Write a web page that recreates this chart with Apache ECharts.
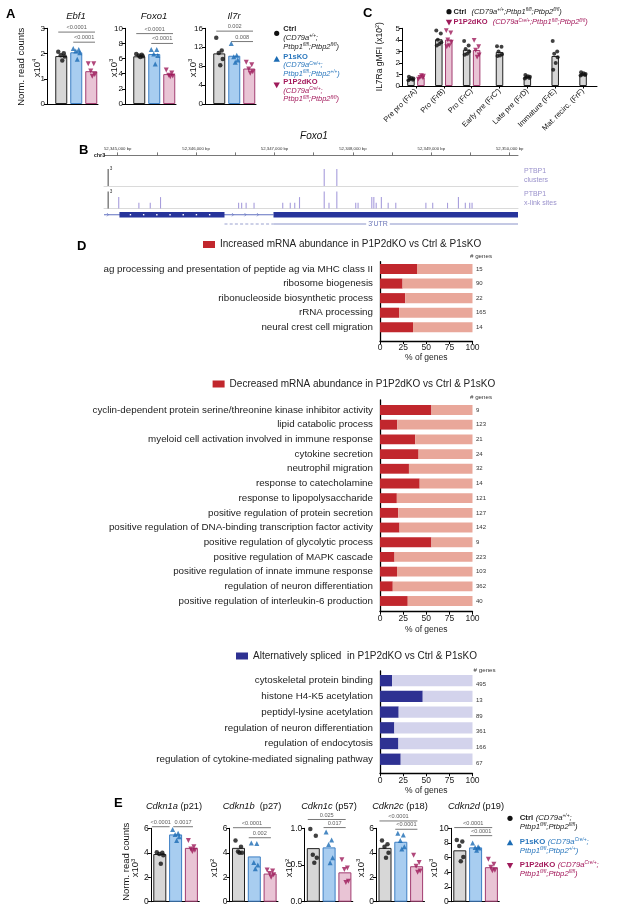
<!DOCTYPE html>
<html>
<head>
<meta charset="utf-8">
<script src="https://cdn.jsdelivr.net/npm/echarts@6/dist/echarts.min.js"></script>
<style>
html,body{margin:0;padding:0;background:#fff;}
#chart{width:617px;height:913px;}
</style>
</head>
<body>
<div id="chart"></div>
<script>
// ================= DATA =================
// Panel A : normalized read counts (Ctrl, P1sKO, P1P2dKO)
const groupsA = ['Ctrl', 'P1sKO', 'P1P2dKO'];
const ebf1Mean = [1.9, 2.05, 1.3];
const ebf1Ctrl = [2.07, 2.01, 1.93, 1.88, 1.72];
const ebf1P1s = [2.2, 2.16, 2.1, 2.03, 1.77];
const ebf1Dko = [1.6, 1.6, 1.31, 1.17, 1.1];
const ebf1Sig = [[0, 2, 2.85, '<0.0001'], [1, 2, 2.45, '<0.0001']];

const foxo1Mean = [6.3, 6.6, 3.95];
const foxo1Ctrl = [6.6, 6.5, 6.4, 6.3, 6.2];
const foxo1P1s = [7.2, 7.2, 6.6, 6.4, 5.3];
const foxo1Dko = [4.5, 4.1, 3.8, 3.7, 3.6];
const foxo1Sig = [[0, 2, 9.3, '<0.0001'], [1, 2, 8.0, '<0.0001']];

const il7rMean = [10.7, 10.2, 7.5];
const il7rCtrl = [14.0, 11.3, 10.8, 9.5, 8.2];
const il7rP1s = [12.8, 10.3, 10.0, 9.3, 8.8];
const il7rDko = [8.8, 8.3, 7.4, 6.8, 6.5];
const il7rSig = [[0, 2, 15.4, '0.002'], [1, 2, 13.2, '0.008']];

// Panel C : IL7Ra gMFI (x10^2)
const stagesC = ['Pre pro (FrA)', 'Pro (FrB)', 'Pro (FrC)', "Early pre (FrC')", 'Late pre (FrD)', 'Immature (FrE)', 'Mat. recirc. (FrF)'];
const ctrlMeanC = [0.6, 4.05, 3.15, 2.95, 0.78, 2.6, 1.0];
const dkoMeanC = [0.75, 4.02, 3.12];
const ctrlPtsC = [
  [0.5, 0.55, 0.6, 0.65, 0.7, 0.8],
  [4.8, 4.55, 4.0, 3.8, 3.65, 3.5],
  [3.9, 3.5, 3.2, 3.0, 2.8, 2.7],
  [3.45, 3.4, 3.0, 2.75, 2.65, 2.6],
  [0.65, 0.7, 0.75, 0.8, 0.85, 0.95],
  [3.9, 3.0, 2.8, 2.5, 2.0, 1.4],
  [0.9, 0.95, 1.0, 1.05, 1.1, 1.2]
];
const dkoPtsC = [
  [0.6, 0.7, 0.75, 0.85, 0.9],
  [4.8, 4.6, 4.0, 3.8, 3.5, 3.4],
  [3.95, 3.4, 3.1, 2.7, 2.5]
];

// Panel B : Foxo1 locus, PTBP1 iCLIP
const bpMin = 52344825;
const bpMax = 52350106;
const bLabelPos = [52345000, 52346000, 52347000, 52348000, 52349000, 52350000];
const bTickPos = [52345000, 52345500, 52346000, 52346500, 52347000, 52347500, 52348000, 52348500, 52349000, 52349500, 52350000];
const bScalePos = 52344878;
const bScaleMax = 3;
const clusterPos = [52347634, 52347795];
const clusterH = [3, 3];
const xlinkPos = [52345013, 52345270, 52345415, 52345546, 52346542, 52346581, 52346638, 52346739, 52347105, 52347201, 52347258, 52347319, 52347634, 52347695, 52347795, 52348036, 52348066, 52348241, 52348267, 52348297, 52348363, 52348450, 52348547, 52348931, 52349018, 52349207, 52349346, 52349434, 52349490, 52349520];
const xlinkH = [2, 1, 1, 2, 1, 1, 1, 1, 1, 1, 1, 2, 3, 1, 3, 1, 1, 2, 2, 1, 2, 1, 1, 1, 1, 1, 2, 1, 1, 1];
// gene model segments: kind 0 = intron line, 1 = UTR exon, 2 = coding exon
const geneStart = [52344825, 52345022, 52346987];
const geneEnd = [52346987, 52346362, 52350106];
const geneKind = [0, 2, 1];
const utrDash = [52346362, 52346987];
const utrSolid = [52346987, 52350106];
const utrLabelPos = 52348320;

// Panel D : GO enrichment (% of genes)
const incName = 'Increased mRNA abundance in P1P2dKO vs Ctrl & P1sKO';
const incTerms = ['ag processing and presentation of peptide ag via MHC class II', 'ribosome biogenesis', 'ribonucleoside biosynthetic process', 'rRNA processing', 'neural crest cell migration'];
const incPct = [40, 24.4, 27.3, 20.6, 35.7];
const incGenes = [15, 90, 22, 165, 14];

const decName = 'Decreased mRNA abundance in P1P2dKO vs Ctrl & P1sKO';
const decTerms = ['cyclin-dependent protein serine/threonine kinase inhibitor activity', 'lipid catabolic process', 'myeloid cell activation involved in immune response', 'cytokine secretion', 'neutrophil migration', 'response to catecholamine', 'response to lipopolysaccharide', 'positive regulation of protein secretion', 'positive regulation of DNA-binding transcription factor activity', 'positive regulation of glycolytic process', 'positive regulation of MAPK cascade', 'positive regulation of innate immune response', 'regulation of neuron differentiation', 'positive regulation of interleukin-6 production'];
const decPct = [55.6, 18.7, 38.1, 41.7, 31.3, 42.9, 18.2, 19.7, 21.1, 55.6, 15.7, 18.4, 13.8, 30];
const decGenes = [9, 123, 21, 24, 32, 14, 121, 127, 142, 9, 223, 103, 362, 40];

const asName = 'Alternatively spliced  in P1P2dKO vs Ctrl & P1sKO';
const asTerms = ['cytoskeletal protein binding', 'histone H4-K5 acetylation', 'peptidyl-lysine acetylation', 'regulation of neuron differentiation', 'regulation of endocytosis', 'regulation of cytokine-mediated signaling pathway'];
const asPct = [13, 46.2, 20.2, 15.5, 19.9, 22.4];
const asGenes = [495, 13, 89, 361, 166, 67];
const pctTicks = [0, 25, 50, 75, 100];

// Panel E : cell-cycle inhibitors (normalized read counts)
const cdkn1aMean = [3.9, 5.5, 4.4];
const cdkn1aCtrl = [4.05, 4.0, 3.9, 3.8, 3.1];
const cdkn1aP1s = [5.9, 5.6, 5.5, 5.3, 5.0];
const cdkn1aDko = [5.0, 4.5, 4.3, 4.2, 4.1];
const cdkn1aSig = [[0, 1, 6.13, '<0.0001'], [1, 2, 6.13, '0.0017']];

const cdkn1bMean = [4.4, 3.7, 2.3];
const cdkn1bCtrl = [5.0, 4.5, 4.1, 4.0, 4.0];
const cdkn1bP1s = [4.8, 4.75, 3.2, 3.0, 2.7];
const cdkn1bDko = [2.6, 2.5, 2.3, 2.2, 2.0];
const cdkn1bSig = [[0, 2, 6.05, '<0.0001'], [1, 2, 5.23, '0.002']];

const cdkn1cMean = [0.73, 0.74, 0.40];
const cdkn1cCtrl = [0.99, 0.9, 0.64, 0.6, 0.53];
const cdkn1cP1s = [0.95, 0.84, 0.78, 0.6, 0.53];
const cdkn1cDko = [0.57, 0.46, 0.44, 0.28, 0.26];
const cdkn1cSig = [[0, 2, 1.12, '0.025'], [1, 2, 1.01, '0.017']];

const cdkn2cMean = [4.4, 4.9, 2.9];
const cdkn2cCtrl = [5.0, 4.7, 4.5, 4.0, 3.6];
const cdkn2cP1s = [5.6, 5.45, 5.0, 4.5, 4.3];
const cdkn2cDko = [3.8, 3.2, 2.9, 2.5, 2.4];
const cdkn2cSig = [[0, 2, 6.6, '<0.0001'], [1, 2, 5.92, '<0.0001']];

const cdkn2dMean = [7.0, 7.4, 4.7];
const cdkn2dCtrl = [8.4, 8.2, 7.6, 6.1, 5.5];
const cdkn2dP1s = [8.0, 7.5, 7.4, 7.3, 7.0];
const cdkn2dDko = [5.8, 5.1, 4.7, 4.3, 4.2];
const cdkn2dSig = [[0, 2, 10.1, '<0.0001'], [1, 2, 9.0, '<0.0001']];

// ================= STYLE / BUILD =================
const FONT = '"Liberation Sans", Arial, Helvetica, sans-serif';
const FILLS = ['#d7d7d7', '#a8cdf0', '#e9c4d5'];
const EDGES = ['#222222', '#3d7fc4', '#a23c70'];
const MARK = ['#111111', '#1c6cb4', '#9e1a5a'];
const SYM = ['circle', 'triangle', 'triangle'];
const ROT = [0, 0, 180];
const SIZE = [4.5, 5, 5];
const JIT = [-3, 2.5, -0.5, 3.5, 1, -2];

const grid = [], xAxis = [], yAxis = [], series = [], legend = [], gfx = [];

function rs(fs, col, lh) {
  const base = { fontFamily: FONT, fill: col, color: col };
  return {
    b: Object.assign({ fontSize: fs, fontWeight: 'bold', lineHeight: lh }, base),
    i: Object.assign({ fontSize: fs, fontStyle: 'italic', lineHeight: lh }, base),
    n: Object.assign({ fontSize: fs, lineHeight: lh }, base),
    s: Object.assign({ fontSize: fs * 0.62, fontStyle: 'italic', lineHeight: fs * 0.62, verticalAlign: 'top' }, base),
    sn: Object.assign({ fontSize: fs * 0.62, lineHeight: fs * 0.62, verticalAlign: 'top' }, base)
  };
}
function txt(x, y, text, o) {
  o = o || {};
  const st = {
    text: text, fill: o.color || '#111', fontFamily: FONT, fontSize: o.size || 9,
    fontWeight: o.weight || 'normal', fontStyle: o.style || 'normal',
    align: o.align || 'center', verticalAlign: o.valign || 'middle'
  };
  if (o.rich) st.rich = o.rich;
  if (o.lh) st.lineHeight = o.lh;
  gfx.push({ type: 'text', x: x, y: y, rotation: o.rot || 0, silent: true, z: 10, style: st });
}
function marker(x, y, g) {
  if (g === 0) {
    gfx.push({ type: 'circle', silent: true, shape: { cx: x, cy: y, r: 2.6 }, style: { fill: MARK[0] } });
  } else {
    const s = 3.2;
    const pts = g === 1 ? [[x, y - s], [x + s, y + s * 0.8], [x - s, y + s * 0.8]]
                        : [[x - s, y - s * 0.8], [x + s, y - s * 0.8], [x, y + s]];
    gfx.push({ type: 'polygon', silent: true, shape: { points: pts }, style: { fill: MARK[g] } });
  }
}

function dotBar(c) {
  const gi = grid.push({ left: c.left, top: c.top, width: c.width, height: c.height }) - 1;
  const xi = xAxis.push({ gridIndex: gi, type: 'value', min: c.xmin, max: c.xmax,
    axisLine: { show: true, onZero: false, lineStyle: { color: '#000', width: 1 } },
    axisTick: { show: false }, axisLabel: { show: false }, splitLine: { show: false } }) - 1;
  const yi = yAxis.push({ gridIndex: gi, type: 'value', min: 0, max: c.ymax, interval: c.step,
    axisLine: { show: true, onZero: false, lineStyle: { color: '#000', width: 1 } },
    axisTick: { show: true, length: 3, lineStyle: { color: '#000', width: 1 } },
    axisLabel: { fontSize: c.tick, color: '#111', margin: 2, fontFamily: FONT, formatter: c.fmt || (v => String(v)) },
    splitLine: { show: false } }) - 1;
  series.push({ type: 'bar', xAxisIndex: xi, yAxisIndex: yi, barWidth: c.bw, silent: true, z: 2,
    data: c.bars.map((v, i) => ({ value: [i, v], itemStyle: { color: FILLS[i], borderColor: EDGES[i], borderWidth: 1 } })) });
  c.pts.forEach((arr, g) => series.push({ type: 'scatter', xAxisIndex: xi, yAxisIndex: yi, silent: true, z: 4,
    symbol: SYM[g], symbolRotate: ROT[g], symbolSize: SIZE[g], itemStyle: { color: MARK[g] },
    data: arr.map((v, k) => ({ value: [g, v], symbolOffset: [JIT[k % JIT.length], 0] })) }));
  c.sig.forEach((s, k) => {
    const span = c.sigX ? c.sigX[k] : [s[0] + c.sigPad[0], s[1] + c.sigPad[1]];
    series.push({ type: 'line', xAxisIndex: xi, yAxisIndex: yi, silent: true, z: 5, clip: false, symbol: 'none',
      lineStyle: { color: '#555', width: 0.8 }, data: [[span[0], s[2]], [span[1], s[2]]] });
    series.push({ type: 'scatter', xAxisIndex: xi, yAxisIndex: yi, silent: true, z: 5, clip: false, symbolSize: 1,
      itemStyle: { color: 'rgba(0,0,0,0)' }, data: [[(span[0] + span[1]) / 2, s[2]]],
      label: { show: true, position: 'top', distance: 1, formatter: s[3], fontSize: 5.6, color: '#333', fontFamily: FONT } });
  });
}

// ---------- Panel A ----------
txt(6, 14, 'A', { size: 13, weight: 'bold', align: 'left', color: '#000' });
txt(21.7, 66.7, 'Norm. read counts', { size: 9.5, rot: Math.PI / 2 });
const aCommon = { top: 28.3, height: 75.7, width: 51, xmin: -0.95, xmax: 2.45, bw: 12, tick: 8, sigPad: [-0.2, 0.25] };
dotBar(Object.assign({ left: 47, ymax: 3, step: 1, bars: ebf1Mean, pts: [ebf1Ctrl, ebf1P1s, ebf1Dko], sig: ebf1Sig }, aCommon));
dotBar(Object.assign({ left: 125, ymax: 10, step: 2, bars: foxo1Mean, pts: [foxo1Ctrl, foxo1P1s, foxo1Dko], sig: foxo1Sig }, aCommon));
dotBar(Object.assign({ left: 205, ymax: 16, step: 4, bars: il7rMean, pts: [il7rCtrl, il7rP1s, il7rDko], sig: il7rSig }, aCommon));
const richA9 = rs(9.5, '#111', 11);
txt(76, 16, '{i|Ebf1}', { rich: richA9 });
txt(154, 16, '{i|Foxo1}', { rich: richA9 });
txt(234, 16, '{i|Il7r}', { rich: richA9 });
txt(37, 68, '{n|x10}{sn|4}', { rich: rs(9.5, '#111', 11), rot: Math.PI / 2 });
txt(114, 68, '{n|x10}{sn|3}', { rich: rs(9.5, '#111', 11), rot: Math.PI / 2 });
txt(193, 68, '{n|x10}{sn|3}', { rich: rs(9.5, '#111', 11), rot: Math.PI / 2 });
// legend A
marker(276.7, 33.3, 0); marker(276.7, 59.3, 1); marker(276.7, 85, 2);
txt(283.3, 25, '{b|Ctrl}\n{i|(CD79a}{s|+/+}{i|;}\n{i|Ptbp1}{s|fl/fl}{i|;Ptbp2}{s|fl/fl}{i|)}', { align: 'left', valign: 'top', rich: rs(7.5, '#222', 8.7) });
txt(283.3, 52.4, '{b|P1sKO}\n{i|(CD79a}{s|Cre/+}{i|;}\n{i|Ptbp1}{s|fl/fl}{i|;Ptbp2}{s|+/+}{i|)}', { align: 'left', valign: 'top', rich: rs(7.5, '#2a77bd', 8.5) });
txt(283.3, 77.4, '{b|P1P2dKO}\n{i|(CD79a}{s|Cre/+}{i|;}\n{i|Ptbp1}{s|fl/fl}{i|;Ptbp2}{s|fl/fl}{i|)}', { align: 'left', valign: 'top', rich: rs(7.5, '#a3195b', 8.7) });

// ---------- Panel C ----------
txt(363, 13.3, 'C', { size: 13, weight: 'bold', align: 'left', color: '#000' });
marker(449, 11.7, 0); marker(449, 22.3, 2);
txt(453.5, 11.7, '{b|Ctrl}  {i|(CD79a}{s|+/+}{i|;Ptbp1}{s|fl/fl}{i|;Ptbp2}{s|fl/fl}{i|)}', { align: 'left', rich: rs(7.5, '#222', 9) });
txt(453.5, 22.3, '{b|P1P2dKO}  {i|(CD79a}{s|Cre/+}{i|;Ptbp1}{s|fl/fl}{i|;Ptbp2}{s|fl/fl}{i|)}', { align: 'left', rich: rs(7.5, '#a3195b', 9) });
txt(380, 56.7, '{n|IL7Ra gMFI (x10}{sn|2}{n|)}', { rich: rs(8.5, '#111', 10), rot: Math.PI / 2 });
(function () {
  const gi = grid.push({ left: 402, top: 28.3, width: 195, height: 57.7 }) - 1;
  const xa = xAxis.push({ gridIndex: gi, type: 'category', data: stagesC,
    axisLine: { lineStyle: { color: '#000', width: 1 } },
    axisTick: { show: true, alignWithLabel: true, length: 2.5, lineStyle: { color: '#000' } },
    axisLabel: { interval: 0, rotate: 45, fontSize: 7.5, color: '#111', margin: 4, fontFamily: FONT } }) - 1;
  const xb = xAxis.push({ gridIndex: gi, type: 'category', data: stagesC, show: false }) - 1;
  const ya = yAxis.push({ gridIndex: gi, type: 'value', min: 0, max: 5, interval: 1,
    axisLine: { show: true, lineStyle: { color: '#000' } },
    axisTick: { show: true, length: 3, lineStyle: { color: '#000' } },
    axisLabel: { fontSize: 8, color: '#111', margin: 2, fontFamily: FONT }, splitLine: { show: false } }) - 1;
  const nP = dkoMeanC.length;
  const bw = 7.5, off = 5;
  series.push({ type: 'bar', xAxisIndex: xa, yAxisIndex: ya, barWidth: bw, barGap: '33%', silent: true, z: 2,
    data: ctrlMeanC.map((v, i) => i < nP ? v : '-'), itemStyle: { color: FILLS[0], borderColor: EDGES[0], borderWidth: 1 } });
  series.push({ type: 'bar', xAxisIndex: xa, yAxisIndex: ya, barWidth: bw, barGap: '33%', silent: true, z: 2,
    data: ctrlMeanC.map((v, i) => i < nP ? dkoMeanC[i] : '-'), itemStyle: { color: FILLS[2], borderColor: EDGES[2], borderWidth: 1 } });
  series.push({ type: 'bar', xAxisIndex: xb, yAxisIndex: ya, barWidth: bw, silent: true, z: 2,
    data: ctrlMeanC.map((v, i) => i < nP ? '-' : v), itemStyle: { color: FILLS[0], borderColor: EDGES[0], borderWidth: 1 } });
  const jc = [-2.5, 2, -1, 2.5, 0.5, -2];
  const ctrlData = [];
  ctrlPtsC.forEach((arr, i) => arr.forEach((v, k) => ctrlData.push({ value: [i, v], symbolOffset: [(i < nP ? -off : 0) + jc[k % jc.length], 0] })));
  const dkoData = [];
  dkoPtsC.forEach((arr, i) => arr.forEach((v, k) => dkoData.push({ value: [i, v], symbolOffset: [off + jc[k % jc.length], 0] })));
  series.push({ type: 'scatter', xAxisIndex: xa, yAxisIndex: ya, silent: true, z: 4, symbol: 'circle', symbolSize: 4, itemStyle: { color: MARK[0] }, data: ctrlData });
  series.push({ type: 'scatter', xAxisIndex: xa, yAxisIndex: ya, silent: true, z: 4, symbol: 'triangle', symbolRotate: 180, symbolSize: 4.8, itemStyle: { color: MARK[2] }, data: dkoData });
})();

// ---------- Panel B ----------
txt(79, 150, 'B', { size: 13, weight: 'bold', align: 'left', color: '#000' });
txt(314, 136, '{i|Foxo1}', { rich: rs(10, '#111', 12) });
txt(93.7, 155.6, 'chr3', { size: 5.5, weight: 'bold', align: 'left', color: '#222' });
txt(524, 175.5, 'PTBP1\nclusters', { size: 7, align: 'left', color: '#9a92cc', lh: 8.5 });
txt(524, 199, 'PTBP1\nx-link sites', { size: 7, align: 'left', color: '#9a92cc', lh: 9 });
const B_L = 104, B_W = 414;
(function () {
  const g0 = grid.push({ left: B_L, width: B_W, top: 155.4, height: 1 }) - 1;
  xAxis.push({ gridIndex: g0, type: 'value', position: 'top', min: bpMin, max: bpMax,
    axisLine: { show: true, onZero: false, lineStyle: { color: '#555', width: 0.8 } },
    axisTick: { show: true, customValues: bTickPos, length: 3, lineStyle: { color: '#555', width: 0.8 } },
    axisLabel: { show: true, customValues: bLabelPos, formatter: v => Number(v).toLocaleString('en-US') + ' bp', fontSize: 4.3, color: '#333', margin: 4.5, fontFamily: FONT },
    splitLine: { show: false } });
  yAxis.push({ gridIndex: g0, type: 'value', show: false, min: 0, max: 1 });

  function track(top, pos, h) {
    const g = grid.push({ left: B_L, width: B_W, top: top, height: 17.1 }) - 1;
    const xi = xAxis.push({ gridIndex: g, type: 'value', min: bpMin, max: bpMax,
      axisLine: { show: true, onZero: false, lineStyle: { color: '#d0d0d0', width: 0.8 } },
      axisTick: { show: false }, axisLabel: { show: false }, splitLine: { show: false } }) - 1;
    const yi = yAxis.push({ gridIndex: g, type: 'value', min: 0, max: 3, show: false }) - 1;
    series.push({ type: 'bar', xAxisIndex: xi, yAxisIndex: yi, barWidth: 1.1, silent: true,
      data: [[bScalePos, bScaleMax]], itemStyle: { color: '#555' },
      label: { show: true, position: [2.2, -2.5], formatter: String(bScaleMax), fontSize: 4.6, color: '#333', fontFamily: FONT } });
    series.push({ type: 'bar', xAxisIndex: xi, yAxisIndex: yi, barWidth: 1.1, barGap: '-100%', silent: true,
      data: pos.map((p, i) => [p, h[i]]), itemStyle: { color: '#a79ddc' } });
  }
  track(169, clusterPos, clusterH);
  track(191.4, xlinkPos, xlinkH);

  const gg = grid.push({ left: B_L, width: B_W, top: 209.7, height: 10 }) - 1;
  const xg = xAxis.push({ gridIndex: gg, type: 'value', min: bpMin, max: bpMax, show: false }) - 1;
  const yg = yAxis.push({ gridIndex: gg, type: 'value', min: 0, max: 1, show: false }) - 1;
  series.push({ type: 'custom', xAxisIndex: xg, yAxisIndex: yg, silent: true, z: 3,
    data: geneStart.map((s, i) => [s, geneEnd[i], geneKind[i]]),
    renderItem: function (params, api) {
      const s = api.value(0), e = api.value(1), k = api.value(2);
      const a = api.coord([s, 0.5]), b = api.coord([e, 0.5]);
      const h = k === 0 ? 1 : 5.5;
      const col = k === 0 ? '#6170c0' : '#27349b';
      const ch = [{ type: 'rect', shape: { x: a[0], y: a[1] - h / 2, width: b[0] - a[0], height: h }, style: { fill: col } }];
      if (k === 2) {
        for (let x = a[0] + 11; x < b[0] - 6; x += 13.2) ch.push({ type: 'rect', shape: { x: x - 0.7, y: a[1] - 0.7, width: 1.4, height: 1.4 }, style: { fill: '#fff' } });
      }
      if (k === 0) {
        for (let x = a[0] + 4; x < b[0] - 4; x += 12.5) {
          if (x > a[0] + 12 && x < a[0] + 122) continue;
          ch.push({ type: 'polyline', shape: { points: [[x - 1, a[1] - 1.6], [x + 0.6, a[1]], [x - 1, a[1] + 1.6]] }, style: { stroke: col, fill: null, lineWidth: 0.7 } });
        }
      }
      return { type: 'group', children: ch };
    } });

  const gu = grid.push({ left: B_L, width: B_W, top: 219, height: 10 }) - 1;
  const xu = xAxis.push({ gridIndex: gu, type: 'value', min: bpMin, max: bpMax, show: false }) - 1;
  const yu = yAxis.push({ gridIndex: gu, type: 'value', min: 0, max: 1, show: false }) - 1;
  series.push({ type: 'custom', xAxisIndex: xu, yAxisIndex: yu, silent: true, z: 3,
    data: [[utrDash[0], utrDash[1], 0, utrLabelPos], [utrSolid[0], utrSolid[1], 1, utrLabelPos]],
    renderItem: function (params, api) {
      const a = api.coord([api.value(0), 0.5]), b = api.coord([api.value(1), 0.5]);
      const k = api.value(2);
      if (k === 0) {
        return { type: 'line', shape: { x1: a[0], y1: a[1], x2: b[0], y2: b[1] }, style: { stroke: '#9aa1cf', lineWidth: 1, lineDash: [3, 2.2] } };
      }
      const m = api.coord([api.value(3), 0.5]);
      return { type: 'group', children: [
        { type: 'line', shape: { x1: a[0], y1: a[1], x2: b[0], y2: b[1] }, style: { stroke: '#8a93c9', lineWidth: 1 } },
        { type: 'text', style: { text: "3'UTR", x: m[0], y: m[1], align: 'center', verticalAlign: 'middle', fontSize: 7, fontFamily: FONT, fill: '#6b76b8', backgroundColor: '#fff', padding: [0, 2] } }
      ] };
    } });
})();

// ---------- Panel D ----------
txt(77, 246, 'D', { size: 13, weight: 'bold', align: 'left', color: '#000' });
function goPanel(c) {
  const left = 380, width = 92.5;
  const gb = grid.push({ left: left, width: width, top: c.top, height: c.height }) - 1;
  const xb = xAxis.push({ gridIndex: gb, type: 'value', min: 0, max: 100, show: false }) - 1;
  const yb = yAxis.push({ gridIndex: gb, type: 'category', inverse: true, data: c.terms,
    axisLine: { show: false }, axisTick: { show: false },
    axisLabel: { fontSize: 9.8, color: '#222', margin: 7, fontFamily: FONT, interval: 0 } }) - 1;
  series.push({ type: 'bar', name: c.name, stack: 'st' + gb, xAxisIndex: xb, yAxisIndex: yb, barCategoryGap: c.gap, silent: true,
    data: c.pct, itemStyle: { color: c.dark } });
  series.push({ type: 'bar', stack: 'st' + gb, xAxisIndex: xb, yAxisIndex: yb, barCategoryGap: c.gap, silent: true,
    data: c.pct.map(v => 100 - v), itemStyle: { color: c.light },
    label: { show: true, position: 'right', distance: 3.5, fontSize: 6, color: '#333', fontFamily: FONT,
      offset: c.numOffset, formatter: p => String(c.genes[p.dataIndex]) } });
  const gf = grid.push({ left: left, width: width, top: c.frameTop, height: c.frameBottom - c.frameTop }) - 1;
  xAxis.push({ gridIndex: gf, type: 'value', min: pctTicks[0], max: pctTicks[pctTicks.length - 1], interval: pctTicks[1] - pctTicks[0],
    axisLine: { show: true, onZero: false, lineStyle: { color: '#000', width: 1.3 } },
    axisTick: { show: true, length: 3, lineStyle: { color: '#000', width: 1 } },
    axisLabel: { fontSize: 8.5, color: '#222', margin: 2.5, fontFamily: FONT }, splitLine: { show: false },
    name: '% of genes', nameLocation: 'middle', nameGap: c.nameGap, nameTextStyle: { fontSize: 8.5, color: '#222', fontFamily: FONT } });
  yAxis.push({ gridIndex: gf, type: 'value', min: 0, max: 1,
    axisLine: { show: true, onZero: false, lineStyle: { color: '#000', width: 1.3 } },
    axisTick: { show: false }, axisLabel: { show: false }, splitLine: { show: false } });
  legend.push({ data: [c.name], left: c.legLeft, top: c.legTop, itemWidth: 12, itemHeight: 7, padding: 0, icon: 'rect',
    selectedMode: false, textStyle: { fontSize: 10, color: '#222', fontFamily: FONT } });
  txt(c.hdr[0], c.hdr[1], '# genes', { size: 6.2, color: '#333' });
}
goPanel({ name: incName, terms: incTerms, pct: incPct, genes: incGenes, dark: '#c1272d', light: '#e9a79a', gap: '31%',
  top: 261.7, height: 72.9, frameTop: 261.7, frameBottom: 341, nameGap: 12, legLeft: 203, legTop: 239.5, hdr: [481, 256.7], numOffset: [0, 0] });
goPanel({ name: decName, terms: decTerms, pct: decPct, genes: decGenes, dark: '#c1272d', light: '#e9a79a', gap: '33%',
  top: 402.65, height: 205.7, frameTop: 400, frameBottom: 611.7, nameGap: 13, legLeft: 212.6, legTop: 379, hdr: [481, 397.7], numOffset: [0, 0] });
goPanel({ name: asName, terms: asTerms, pct: asPct, genes: asGenes, dark: '#2e3192', light: '#d3d3ec', gap: '28%',
  top: 672.8, height: 94.3, frameTop: 671, frameBottom: 773.3, nameGap: 10.5, legLeft: 236, legTop: 651, hdr: [484.6, 670.7], numOffset: [0, 4] });

// ---------- Panel E ----------
txt(114, 803, 'E', { size: 13, weight: 'bold', align: 'left', color: '#000' });
txt(126, 861.7, 'Norm. read counts', { size: 9.5, rot: Math.PI / 2 });
const eCommon = { top: 828.3, height: 73.4, width: 48.5, xmin: -0.57, xmax: 2.5, bw: 13, tick: 8.5, sigPad: [-0.35, 0.05] };
dotBar(Object.assign({ left: 150.8, ymax: 6, step: 2, bars: cdkn1aMean, pts: [cdkn1aCtrl, cdkn1aP1s, cdkn1aDko], sig: cdkn1aSig, sigX: [[-0.5, 0.62], [0.85, 2.1]] }, eCommon));
dotBar(Object.assign({ left: 229.5, ymax: 6, step: 2, bars: cdkn1bMean, pts: [cdkn1bCtrl, cdkn1bP1s, cdkn1bDko], sig: cdkn1bSig }, eCommon));
dotBar(Object.assign({ left: 304.3, ymax: 1, step: 0.5, bars: cdkn1cMean, pts: [cdkn1cCtrl, cdkn1cP1s, cdkn1cDko], sig: cdkn1cSig, fmt: v => v.toFixed(1) }, eCommon));
dotBar(Object.assign({ left: 376, ymax: 6, step: 2, bars: cdkn2cMean, pts: [cdkn2cCtrl, cdkn2cP1s, cdkn2cDko], sig: cdkn2cSig }, eCommon));
dotBar(Object.assign({ left: 450.8, ymax: 10, step: 2, bars: cdkn2dMean, pts: [cdkn2dCtrl, cdkn2dP1s, cdkn2dDko], sig: cdkn2dSig }, eCommon));
const richE = rs(9.3, '#111', 11);
txt(174, 806.7, '{i|Cdkn1a} {n|(p21)}', { rich: richE });
txt(252, 806.7, '{i|Cdkn1b}  {n|(p27)}', { rich: richE });
txt(329, 806.7, '{i|Cdkn1c} {n|(p57)}', { rich: richE });
txt(400, 806.7, '{i|Cdkn2c} {n|(p18)}', { rich: richE });
txt(476, 806.7, '{i|Cdkn2d} {n|(p19)}', { rich: richE });
const eX = [[135.8, '3'], [214.6, '2'], [289.4, '2'], [361, '3'], [434, '3']];
eX.forEach(p => txt(p[0], 868, '{n|x10}{sn|' + p[1] + '}', { rich: rs(9.5, '#111', 11), rot: Math.PI / 2 }));
// legend E
marker(510, 818.3, 0); marker(510, 842.7, 1); marker(510, 865.5, 2);
txt(519.7, 813.2, '{b|Ctrl} {i|(CD79a}{s|+/+}{i|;}\n{i|Ptbp1}{s|fl/fl}{i|;Ptbp2}{s|fl/fl}{i|)}', { align: 'left', valign: 'top', rich: rs(7.8, '#222', 9) });
txt(519.7, 837.2, '{b|P1sKO} {i|(CD79a}{s|Cre/+}{i|;}\n{i|Ptbp1}{s|fl/fl}{i|;Ptbp2}{s|+/+}{i|)}', { align: 'left', valign: 'top', rich: rs(7.8, '#2a77bd', 9) });
txt(519.7, 860.5, '{b|P1P2dKO} {i|(CD79a}{s|Cre/+}{i|;}\n{i|Ptbp1}{s|fl/fl}{i|;Ptbp2}{s|fl/fl}{i|)}', { align: 'left', valign: 'top', rich: rs(7.8, '#a3195b', 9) });

// ---------- render ----------
const chart = echarts.init(document.getElementById('chart'), null, { renderer: 'canvas', width: 617, height: 913 });
chart.setOption({
  animation: false,
  backgroundColor: '#ffffff',
  textStyle: { fontFamily: FONT },
  grid: grid, xAxis: xAxis, yAxis: yAxis, series: series, legend: legend,
  graphic: { elements: gfx }
});
</script>
</body>
</html>
